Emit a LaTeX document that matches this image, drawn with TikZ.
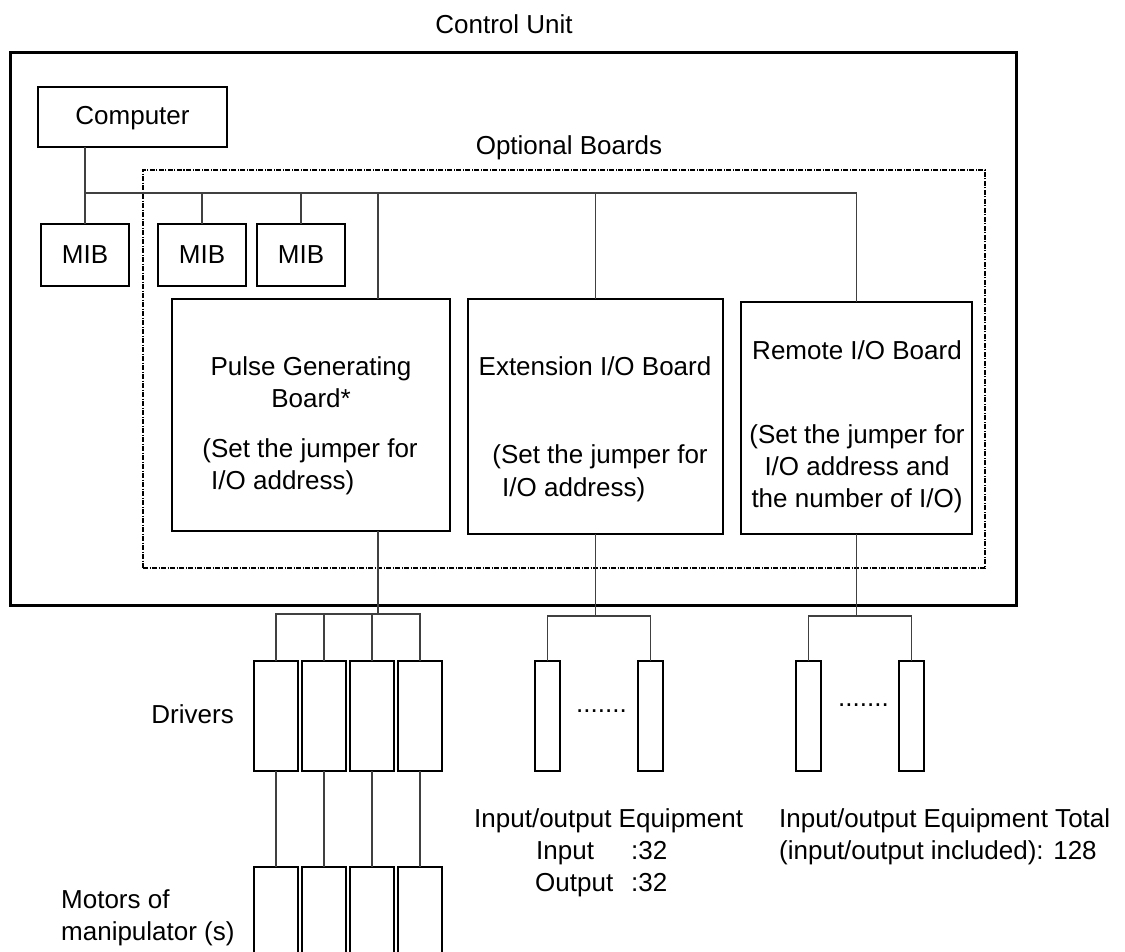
\documentclass[tikz,border=0pt]{standalone}
\usepackage{fontspec}
\setmainfont{Liberation Sans}
\newcommand\fsz{\fontsize{26}{32}\selectfont}
\begin{document}
\begin{tikzpicture}[x=1pt,y=-1pt,
  box/.style={draw=black, line width=1.8pt, inner sep=0pt, outer sep=0pt, fill=none},
  thickbox/.style={box, line width=3pt},
  dashbox/.style={draw=black, line width=1.2pt, inner sep=0pt, dash pattern=on 5pt off 1.5pt on 1pt off 1.5pt},
  wire/.style={draw=black!75, line width=1.2pt},
  lbl/.style={inner sep=0pt, anchor=base, font=\fsz},
  lbll/.style={lbl, anchor=base west},
  lblr/.style={lbl, anchor=base east}]
\clip (0,0) rectangle (1125,952);
\useasboundingbox (0,0) rectangle (1125,952);
\fill[white] (0,0) rectangle (1125,952);

% outer boxes
\node[thickbox, minimum width=1006pt, minimum height=552pt] (cu) at (513,329) {};
\node[dashbox, minimum width=842pt, minimum height=398pt] (opt) at (564,369) {};
\node[lbl] (cut) at (504,34) {Control Unit};
\node[lbl] (optt) at (569,155) {Optional Boards};

% computer and MIBs
\node[box, minimum width=189pt, minimum height=60pt] (comp) at (132.5,117) {};
\node[lbl] at (132.5,125) {Computer};
\node[box, minimum width=88pt, minimum height=62pt] (mib1) at (85,255) {};
\node[box, minimum width=88pt, minimum height=62pt] (mib2) at (202,255) {};
\node[box, minimum width=88pt, minimum height=62pt] (mib3) at (301,255) {};
\node[lbl] at (85,264) {MIB};
\node[lbl] at (202,264) {MIB};
\node[lbl] at (301,264) {MIB};

% boards
\node[box, minimum width=278pt, minimum height=232pt] (pulse) at (311,415) {};
\node[box, minimum width=255pt, minimum height=235pt] (ext) at (595.5,416.5) {};
\node[box, minimum width=231pt, minimum height=232pt] (remote) at (856.5,418) {};

\node[lbl] at (311,375) {Pulse Generating};
\node[lbl] at (311,407) {Board*};
\node[lbl] at (310,457) {(Set the jumper for};
\node[lbll] at (211,489) {I/O address)};

\node[lbl] at (595,375) {Extension I/O Board};
\node[lbl] at (600,463) {(Set the jumper for};
\node[lbll] at (502,496) {I/O address)};

\node[lbl] at (857,359) {Remote I/O Board};
\node[lbl] at (857,443) {(Set the jumper for};
\node[lbl] at (857,475) {I/O address and};
\node[lbl] at (857,507) {the number of I/O)};

% bus
\coordinate (bus) at (0,193);
\coordinate (px) at (378,193);
\draw[wire] (comp.south -| mib1.north) -- (mib1.north);
\draw[wire] (mib1.north |- bus) -- (remote.north |- bus);
\draw[wire] (mib2.north |- bus) -- (mib2.north);
\draw[wire] (mib3.north |- bus) -- (mib3.north);
\draw[wire] (px) -- (px |- pulse.north);
\draw[wire] (ext.north |- bus) -- (ext.north);
\draw[wire] (remote.north |- bus) -- (remote.north);

% drivers and motors
\foreach \i/\x in {1/276,2/324,3/372,4/420}{
  \node[box, minimum width=44pt, minimum height=110pt] (d\i) at (\x,716) {};
  \node[box, minimum width=44pt, minimum height=123pt] (m\i) at (\x,928.5) {};
  \draw[wire] (d\i.south) -- (m\i.north);
}
\coordinate (dbr) at (0,614);
\draw[wire] (px |- pulse.south) -- (px |- dbr);
\draw[wire] (d1.north) -- (d1.north |- dbr) -- (d4.north |- dbr) -- (d4.north);
\draw[wire] (d2.north |- dbr) -- (d2.north);
\draw[wire] (d3.north |- dbr) -- (d3.north);
\node[lblr] at (234,723) {Drivers};
\node[lbll] at (61,908) {Motors of};
\node[lbll] at (61,940) {manipulator (s)};

% extension I/O equipment
\node[box, minimum width=25pt, minimum height=110pt] (e1) at (547.5,716) {};
\node[box, minimum width=25pt, minimum height=110pt] (e2) at (650.5,716) {};
\coordinate (ebr) at (0,616);
\draw[wire] (ext.south) -- (ext.south |- ebr);
\draw[wire] (e1.north) -- (e1.north |- ebr) -- (e2.north |- ebr) -- (e2.north);
\node[lbll] at (576,712) {.......};

% remote I/O equipment
\node[box, minimum width=25pt, minimum height=110pt] (r1) at (808.5,716) {};
\node[box, minimum width=25pt, minimum height=110pt] (r2) at (911.5,716) {};
\draw[wire] (remote.south) -- (remote.south |- ebr);
\draw[wire] (r1.north) -- (r1.north |- ebr) -- (r2.north |- ebr) -- (r2.north);
\node[lbll] at (838,706) {.......};

% captions
\node[lbll] at (474,827) {Input/output Equipment};
\node[lbll] at (536,859) {Input};
\node[lbll] at (631,859) {:32};
\node[lbll] at (535,891) {Output};
\node[lbll] at (631,891) {:32};
\node[lbll] at (779,827) {Input/output Equipment Total};
\node[lbll] at (779,859) {(input/output included): 128};
\end{tikzpicture}
\end{document}
